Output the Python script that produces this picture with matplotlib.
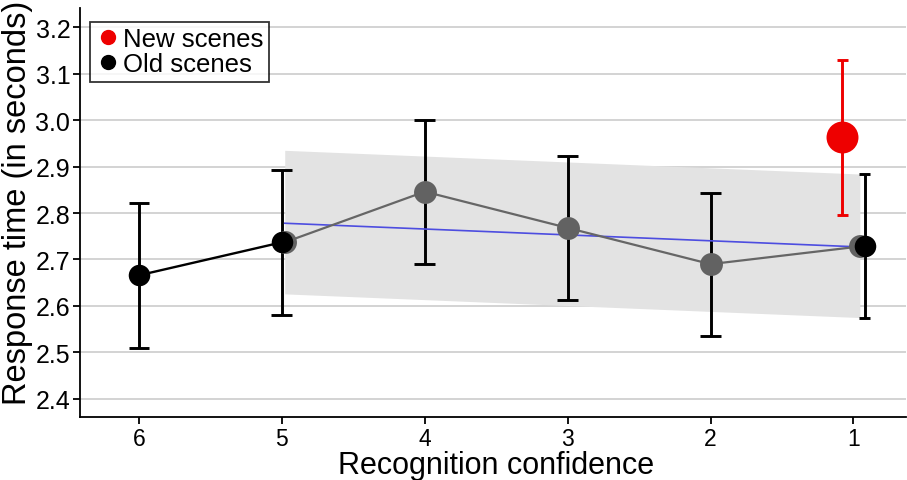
import matplotlib
matplotlib.use("Agg")
import matplotlib.pyplot as plt
from matplotlib.lines import Line2D

plt.rcParams['font.family'] = ['Liberation Sans', 'DejaVu Sans']

# recognition confidence levels, shown from 6 down to 1
confidence = [6, 5, 4, 3, 2, 1]
old_mean = [2.666, 2.737, 2.846, 2.768, 2.690, 2.728]
old_lower = [2.510, 2.581, 2.691, 2.613, 2.536, 2.573]
old_upper = [2.822, 2.893, 3.001, 2.923, 2.843, 2.884]

# new scenes only exist at confidence 1
new_conf = 1
new_mean = 2.963
new_lower = 2.796
new_upper = 3.130

# linear trend over confidence 5..1 with its confidence band
trend_conf = [5, 1]
trend_fit = [2.778, 2.727]
band_lower = [2.626, 2.575]
band_upper = [2.935, 2.884]

y_ticks = [2.4, 2.5, 2.6, 2.7, 2.8, 2.9, 3.0, 3.1, 3.2]

pos = {c: i for i, c in enumerate(confidence)}
dodge = 0.078
trend_shift = [0.02, 0.045]

fig = plt.figure(figsize=(9.07, 4.81), dpi=100)
ax = fig.add_axes([0.0882, 0.131, 0.911, 0.850])

for y in y_ticks:
    ax.axhline(y, color='#c8c8c8', lw=1.1, zorder=0)

# trend band and line
tx = [pos[c] + s for c, s in zip(trend_conf, trend_shift)]
ax.fill_between(tx, band_lower, band_upper, color='#e3e3e3', lw=0, zorder=1)
ax.plot(tx, trend_fit, color='#4d4de0', lw=1.2, zorder=4)

old_x = [pos[c] for c in confidence]
old_x[-1] += dodge
new_x = pos[new_conf] - dodge

# error bars for old scenes
for i, (x, lo, hi) in enumerate(zip(old_x, old_lower, old_upper)):
    cap = 0.073 if i < len(old_x) - 1 else 0.037
    ax.plot([x, x], [lo, hi], color='black', lw=2.1, zorder=3, solid_capstyle='butt')
    ax.plot([x - cap, x + cap], [lo, lo], color='black', lw=2.1, zorder=3, solid_capstyle='butt')
    ax.plot([x - cap, x + cap], [hi, hi], color='black', lw=2.1, zorder=3, solid_capstyle='butt')

# error bar for new scenes
ax.plot([new_x, new_x], [new_lower, new_upper], color='#ee0000', lw=2.1, zorder=3, solid_capstyle='butt')
for v in (new_lower, new_upper):
    ax.plot([new_x - 0.037, new_x + 0.037], [v, v], color='#ee0000', lw=2.1, zorder=3, solid_capstyle='butt')

# black segment 6 -> 5, grey path 5 -> 1
ax.plot(old_x[:2], old_mean[:2], color='black', lw=1.7, zorder=5)
gx = [pos[c] for c in confidence[1:]]
gx[0] += trend_shift[0]
gx[-1] += trend_shift[1]
ax.plot(gx, old_mean[1:], color='#666666', lw=1.6, zorder=5,
        marker='o', ms=16.5, mfc='#626262', mec='none')

for i in (0, 1, 5):
    ax.plot(old_x[i], old_mean[i], 'o', color='black', ms=15.5, mec='none', zorder=6)
ax.plot(new_x, new_mean, 'o', color='#ee0000', ms=23, mec='none', zorder=6)

ax.set_xlim(-0.413, 5.37)
ax.set_ylim(2.361, 3.241)
ax.set_xticks(range(len(confidence)))
ax.set_xticklabels([str(c) for c in confidence])
ax.set_yticks(y_ticks)
ax.set_yticklabels([f"{v:.1f}" for v in y_ticks])
ax.tick_params(axis='both', length=5, width=1.3, color='black', pad=2)
ax.tick_params(axis='y', labelsize=18)
ax.tick_params(axis='x', labelsize=16.5)

for side in ('top', 'right'):
    ax.spines[side].set_visible(False)
for side in ('left', 'bottom'):
    ax.spines[side].set_linewidth(1.3)

ax.set_xlabel('Recognition confidence', fontsize=22)
ax.set_ylabel('Response time (in seconds)', fontsize=23.5)
ax.xaxis.set_label_coords(0.503, -0.08)
ax.yaxis.set_label_coords(-0.057, 0.526)

handles = [
    Line2D([], [], ls='none', marker='o', color='#ee0000', ms=10),
    Line2D([], [], ls='none', marker='o', color='black', ms=10),
]
leg = ax.legend(handles, ['New scenes', 'Old scenes'], loc='upper left',
                bbox_to_anchor=(0.012, 0.966), fontsize=18.5, frameon=True, fancybox=False,
                handletextpad=0.1, handlelength=1.0, borderpad=0.2, labelspacing=0.05,
                borderaxespad=0)
leg.get_frame().set_edgecolor('black')
leg.get_frame().set_linewidth(1.3)

fig.savefig('out.png', dpi=100)
